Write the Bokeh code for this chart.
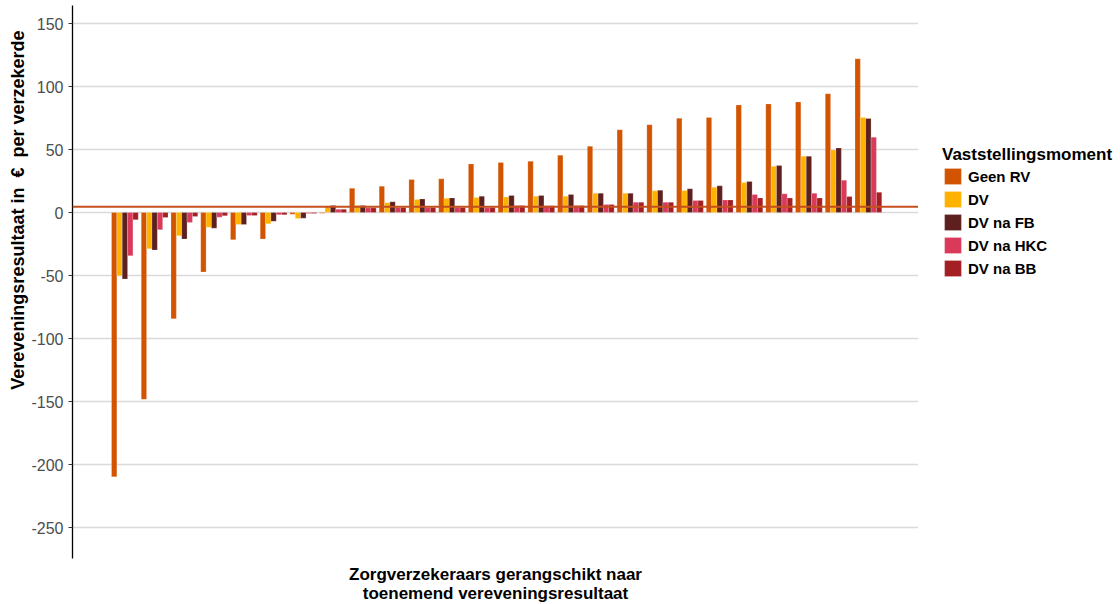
from bokeh.plotting import figure
from bokeh.layouts import row
from bokeh.models import Range1d, Span, Legend, LegendItem, Title, FixedTicker, ColumnDataSource
from bokeh.embed import file_html
from bokeh.resources import INLINE

# ---- data ----
series = ["Geen RV", "DV", "DV na FB", "DV na HKC", "DV na BB"]
colors = ["#D35400", "#FFB300", "#5E1F1F", "#DA3A5A", "#A31F24"]

geen_rv = [-209.8, -148.3, -84.4, -47.2, -21.6, -21.1, -1.3, -0.6, 19.3, 20.9, 26.2, 26.7, 38.6,
           39.7, 40.7, 45.5, 52.6, 65.6, 69.6, 74.9, 75.4, 85.4, 86.2, 87.8, 94.2, 122.0]
dv = [-50.1, -28.8, -18.5, -11.6, -9.5, -9.0, -4.7, 4.7, 5.5, 7.7, 10.3, 11.4, 11.9,
      12.4, 13.0, 13.0, 15.3, 15.3, 17.2, 17.5, 20.1, 23.8, 36.7, 44.7, 49.7, 75.4]
dv_fb = [-52.8, -29.8, -21.1, -12.4, -9.5, -6.9, -4.5, 5.5, 5.6, 8.5, 10.8, 11.6, 13.0,
         13.5, 13.5, 14.3, 15.3, 15.3, 17.7, 18.8, 21.2, 24.6, 37.3, 44.7, 51.3, 74.6]
dv_hkc = [-34.3, -13.7, -7.9, -3.7, -2.4, -1.8, -0.8, 2.6, 3.7, 3.9, 3.9, 3.9, 3.9,
          5.5, 5.3, 5.6, 6.3, 8.2, 8.2, 9.5, 10.0, 14.3, 14.8, 15.3, 25.7, 59.8]
dv_bb = [-5.8, -4.0, -3.2, -2.6, -2.4, -1.8, -0.8, 2.6, 3.7, 3.9, 3.9, 3.9, 3.9,
         5.5, 5.3, 5.6, 6.3, 8.2, 8.2, 9.5, 10.0, 11.6, 11.6, 11.6, 12.7, 16.1]
values = [geen_rv, dv, dv_fb, dv_hkc, dv_bb]

reference_line = 4.5
yticks = [-250, -200, -150, -100, -50, 0, 50, 100, 150]
ytick_labels = ["-250", "-200", "-150", "-100", "-50", "0", "50", "100", "150"]
y_title = "Vereveningsresultaat in\u00a0 €\u00a0 per verzekerde"
x_title = "Zorgverzekeraars gerangschikt naar\ntoenemend vereveningsresultaat"
legend_title = "Vaststellingsmoment"

FONT = "Liberation Sans"
n_groups = len(geen_rv)
groups = list(range(1, n_groups + 1))
bar_w = 0.18

p = figure(frame_width=846, frame_height=553, output_backend="svg", toolbar_location=None,
           x_range=Range1d(-0.762, 27.685), y_range=Range1d(-274.6, 164.3),
           min_border_left=72, min_border_right=0, min_border_top=5, min_border_bottom=46)
p.outline_line_color = None
p.background_fill_color = "white"
p.border_fill_color = "white"

for k, (name, col, vals) in enumerate(zip(series, colors, values)):
    xs = [g + (k - 2) * bar_w for g in groups]
    src = ColumnDataSource(dict(x=xs, top=vals))
    p.vbar(x="x", top="top", bottom=0, width=bar_w, source=src,
           fill_color=col, line_color="white", line_alpha=0.35, line_width=0.6)

p.add_layout(Span(location=reference_line, dimension="width", line_color="#C4501E", line_width=2))

# grid
p.xgrid.grid_line_color = None
p.ygrid.ticker = FixedTicker(ticks=yticks)
p.ygrid.grid_line_color = "#DADADA"
p.ygrid.grid_line_width = 1.3

# y axis
p.yaxis.ticker = FixedTicker(ticks=yticks)
p.yaxis.major_label_overrides = {t: s for t, s in zip(yticks, ytick_labels)}
p.yaxis.axis_line_color = "black"
p.yaxis.axis_line_width = 1.3
p.yaxis.major_tick_line_color = "#333333"
p.yaxis.major_tick_out = 4
p.yaxis.major_tick_in = 0
p.yaxis.minor_tick_line_color = None
p.yaxis.major_label_standoff = 5
p.yaxis.major_label_text_font = FONT
p.yaxis.major_label_text_font_size = "16px"
p.yaxis.major_label_text_color = "#4D4D4D"

p.add_layout(Title(text=y_title, align="right", offset=25, standoff=2,
                   text_font=FONT, text_font_size="18px", text_font_style="bold",
                   text_color="black"), "left")

# x axis
p.xaxis.ticker = FixedTicker(ticks=[])
p.xaxis.axis_line_color = None
p.xaxis.major_tick_line_color = None
p.xaxis.minor_tick_line_color = None
p.xaxis.major_tick_out = 0
p.xaxis.major_label_standoff = 0
p.xaxis.major_label_text_font_size = "0px"
p.xaxis.axis_label = x_title
p.xaxis.axis_label_standoff = 6
p.xaxis.axis_label_text_font = FONT
p.xaxis.axis_label_text_font_size = "17px"
p.xaxis.axis_label_text_font_style = "bold"
p.xaxis.axis_label_text_line_height = 1.0
p.xaxis.axis_label_text_color = "black"

# legend in a side figure
lf = figure(width=202, height=604, output_backend="svg", toolbar_location=None,
            x_range=Range1d(0, 1), y_range=Range1d(0, 1),
            x_axis_type=None, y_axis_type=None, min_border=0)
lf.outline_line_color = None
lf.grid.grid_line_color = None
items = []
for name, col in zip(series, colors):
    r = lf.vbar(x=[-1], top=[0], bottom=0, width=0, fill_color=col,
                line_color="white", line_alpha=0.35, line_width=0.6)
    items.append(LegendItem(label=name, renderers=[r]))

legend = Legend(items=items, title=legend_title, location=(24, 279),
                border_line_color=None, background_fill_alpha=0, padding=0, margin=0,
                spacing=3, glyph_width=21, glyph_height=20, label_height=20,
                label_standoff=5, title_standoff=1,
                label_text_font=FONT, label_text_font_size="15px", label_text_font_style="bold",
                label_text_color="black",
                title_text_font=FONT, title_text_font_size="17px", title_text_font_style="bold",
                title_text_color="black")
lf.add_layout(legend, "center")

layout = row(p, lf)
open("out.html", "w").write(file_html(layout, INLINE))
